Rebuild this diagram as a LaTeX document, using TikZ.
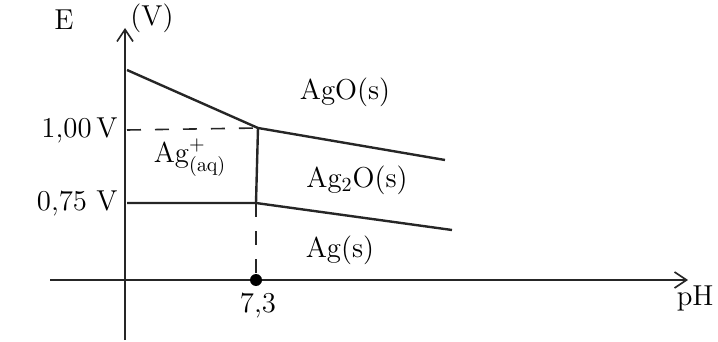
\documentclass[tikz,border=0pt]{standalone}
\usepackage{amsmath}
\usepackage{tikz}
\usetikzlibrary{arrows.meta,positioning}

\begin{document}
\begin{tikzpicture}[
      x=0.5pt, y=-0.5pt,
      axis/.style={thick, draw=black!85},
      arrow/.style={-{Straight Barb[length=6pt, width=8pt]}, thick, draw=black!85},
      border/.style={very thick, draw=black!85},
      guide/.style={thick, draw=black!85, dash pattern=on 7pt off 7pt},
      label/.style={font=\Large, inner sep=1pt},
      region/.style={font=\Large, inner sep=1pt}
  ]
      \useasboundingbox (0,0) rectangle (718,342);

      % Points
      \coordinate (ybot) at (125,340);
      \coordinate (ytop) at (125,28);
      \coordinate (xleft) at (50,280);
      \coordinate (xright) at (688,280);
      \coordinate (start) at (127,70);
      \coordinate (triple) at (258,128);
      \coordinate (upend) at (445,160);
      \coordinate (dashstart) at (127,130);
      \coordinate (lowstart) at (127,203);
      \coordinate (lowmid) at (256,203);
      \coordinate (lowend) at (452,230);
      \coordinate (foot) at (256,280);

      % Axes
      \draw [arrow] (ybot) -- (ytop);
      \draw [arrow] (xleft) -- (xright);

      % Boundaries
      \draw [border] (start) -- (triple) -- (upend);
      \draw [border] (lowstart) -- (lowmid) -- (lowend);
      \draw [border] (triple) -- (lowmid);
      \draw [guide] (dashstart) -- (triple);
      \draw [guide] (lowmid) -- (foot);
      \fill (foot) circle (3pt);

      % Labels
      \node (elabel) [label] at (64,20) {E};
      \node (vlabel) [label] at (152,18) {(V)};
      \node (phlabel) [label, anchor=east] at (716,298) {pH};
      \node (oneval) [label, anchor=east] at (120,130) {1,00\,V};
      \node (lowval) [label, anchor=east] at (120,203) {0,75 V};
      \node (phval) [label] at (258,306) {7,3};

      % Regions
      \node (ago) [region] at (345,92) {AgO(s)};
      \node (agtwoo) [region] at (357,180) {Ag$_2$O(s)};
      \node (ag) [region] at (340,250) {Ag(s)};
      \node (agion) [region] at (190,158) {Ag$^{+}_{(\mathrm{aq})}$};
  \end{tikzpicture}
\end{document}
